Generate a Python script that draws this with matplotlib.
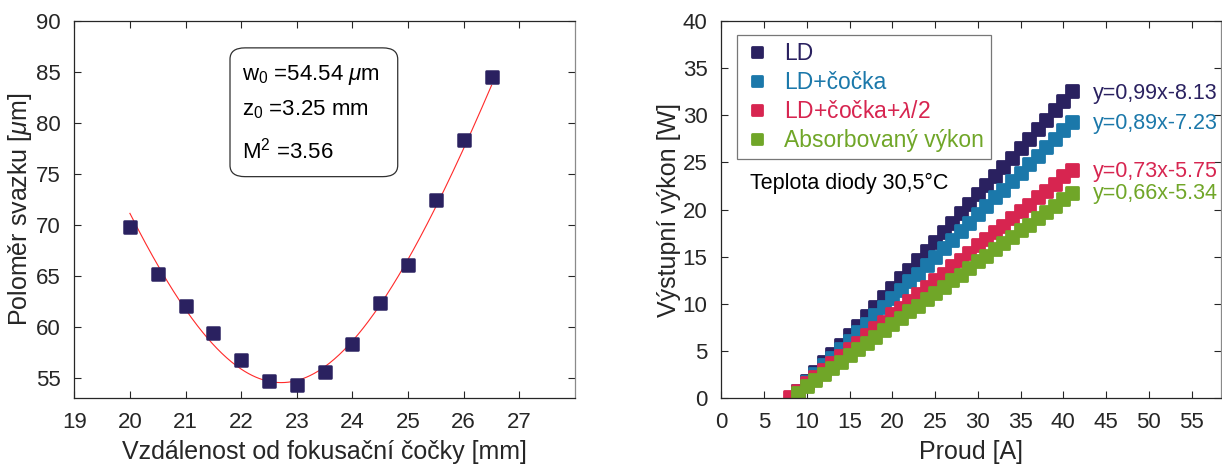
import numpy as np
import matplotlib
matplotlib.use("Agg")
import matplotlib.pyplot as plt
from matplotlib.markers import MarkerStyle
from matplotlib.patches import FancyBboxPatch

plt.rcParams['font.family'] = ['Liberation Sans', 'DejaVu Sans']
plt.rcParams['mathtext.fontset'] = 'custom'
plt.rcParams['mathtext.rm'] = 'Liberation Sans'
plt.rcParams['mathtext.it'] = 'Liberation Sans:italic'

# ---- Left panel data ----
z_mm = [20, 20.5, 21, 21.5, 22, 22.5, 23, 23.5, 24, 24.5, 25, 25.5, 26, 26.5]
radius_um = [69.75, 65.18, 62.05, 59.41, 56.73, 54.74, 54.35, 55.59, 58.36,
             62.34, 66.09, 72.45, 78.32, 84.46]
w0_fit = 54.54
zR_fit = 3.25
zc_fit = 22.72
fit_text = ["w$_0$ =54.54 $\\mu$m", "z$_0$ =3.25 mm", "M$^2$ =3.56"]

# ---- Right panel data ----
current_ld = list(range(9, 42))
p_ld = [0.8, 1.8, 2.8, 3.8, 4.7, 5.7, 6.7, 7.7, 8.7, 9.7, 10.7, 11.7, 12.7, 13.6,
        14.6, 15.6, 16.6, 17.6, 18.6, 19.6, 20.6, 21.6, 22.6, 23.5, 24.5, 25.5,
        26.5, 27.5, 28.5, 29.5, 30.5, 31.5, 32.5]
current_lens = list(range(9, 42))
p_lens = [0.8, 1.7, 2.6, 3.5, 4.3, 5.2, 6.1, 7.0, 7.9, 8.8, 9.7, 10.6, 11.5, 12.4,
          13.2, 14.1, 15.0, 15.9, 16.8, 17.7, 18.6, 19.5, 20.4, 21.3, 22.1, 23.0,
          23.9, 24.8, 25.7, 26.6, 27.5, 28.4, 29.3]
current_wp = list(range(8, 42))
p_wp = [0.1, 0.8, 1.6, 2.3, 3.0, 3.7, 4.5, 5.2, 5.9, 6.7, 7.4, 8.1, 8.9, 9.6, 10.3,
        11.0, 11.8, 12.5, 13.2, 14.0, 14.7, 15.4, 16.2, 16.9, 17.6, 18.3, 19.1,
        19.8, 20.5, 21.3, 22.0, 22.7, 23.5, 24.2]
current_abs = list(range(9, 42))
p_abs = [0.6, 1.3, 1.9, 2.6, 3.2, 3.9, 4.6, 5.2, 5.9, 6.5, 7.2, 7.9, 8.5, 9.2,
         9.8, 10.5, 11.2, 11.8, 12.5, 13.1, 13.8, 14.5, 15.1, 15.8, 16.4, 17.1,
         17.8, 18.4, 19.1, 19.7, 20.4, 21.1, 21.7]
series_labels = ["LD", "LD+čočka", "LD+čočka+$\\lambda$/2", "Absorbovaný výkon"]
fit_labels = ["y=0,99x-8.13", "y=0,89x-7.23", "y=0,73x-5.75", "y=0,66x-5.34"]
fit_label_y = [32.3, 29.1, 24.0, 21.7]
temp_text = "Teplota diody 30,5°C"

NAVY = '#2a2160'
BLUE = '#1b78aa'
RED = '#d72550'
GREEN = '#70a628'
series_colors = [NAVY, BLUE, RED, GREEN]
AXC = '#262626'

fig = plt.figure(figsize=(12.22, 4.69), dpi=100)
axL = fig.add_axes([0.0608, 0.1507, 0.4097, 0.8052])
axR = fig.add_axes([0.5903, 0.1507, 0.4089, 0.8052])

sq = MarkerStyle('s', joinstyle='round')

def style_axes(ax):
    for s in ax.spines.values():
        s.set_color(AXC)
        s.set_linewidth(0.9)
    ax.spines['right'].set_color('#8a8a8a')
    ax.tick_params(direction='in', length=5, width=0.8, colors=AXC,
                   top=True, right=True, labelsize=16, pad=10)

# Left panel
zz = np.linspace(z_mm[0], z_mm[-1], 300)
axL.plot(zz, w0_fit * np.sqrt(1 + ((zz - zc_fit) / zR_fit) ** 2),
         color='#ff2a2a', lw=0.8, zorder=2)
axL.plot(z_mm, radius_um, linestyle='none', marker=sq, ms=9.0, mew=1.8,
         color=NAVY, mec=NAVY, zorder=3)
axL.set_xlim(19, 28)
axL.set_ylim(53, 90)
axL.set_xticks(range(19, 28))
axL.set_yticks(range(55, 91, 5))
style_axes(axL)
axL.set_xlabel("Vzdálenost od fokusační čočky [mm]", fontsize=18, color=AXC, labelpad=5)
axL.set_ylabel("Poloměr svazku [$\\mu$m]", fontsize=18, color=AXC, labelpad=1)

box = FancyBboxPatch((0.311, 0.587), 0.335, 0.341, boxstyle="round,pad=0,rounding_size=0.03",
                     transform=axL.transAxes, fc='white', ec='#303030', lw=0.9, zorder=4)
axL.add_patch(box)
for t, yy in zip(fit_text, [0.856, 0.765, 0.656]):
    axL.text(0.334, yy, t, transform=axL.transAxes, fontsize=16, color='black',
             va='center', ha='left', zorder=5)

# Right panel
xs = [current_ld, current_lens, current_wp, current_abs]
ys = [p_ld, p_lens, p_wp, p_abs]
handles = []
for x, y, c, lab in zip(xs, ys, series_colors, series_labels):
    h, = axR.plot(x, y, linestyle='none', marker=sq, ms=9.0, mew=2.0,
                  color=c, mec=c, label=lab)
    handles.append(h)
axR.set_xlim(0, 58.45)
axR.set_ylim(0, 40)
axR.set_xticks(range(0, 56, 5))
axR.set_yticks(range(0, 41, 5))
style_axes(axR)
axR.set_xlabel("Proud [A]", fontsize=18, color=AXC, labelpad=5)
axR.set_ylabel("Výstupní výkon [W]", fontsize=18, color=AXC, labelpad=1)

for lab, yy, c in zip(fit_labels, fit_label_y, series_colors):
    axR.text(43.5, yy, lab, fontsize=15.5, color=c, va='center', ha='left')
axR.text(3.3, 22.8, temp_text, fontsize=15.5, color='black', va='center', ha='left')

leg = axR.legend(handles=handles, loc='upper left', bbox_to_anchor=(0.031, 0.9616),
                 borderaxespad=0, fontsize=16.5, frameon=True, fancybox=False,
                 handlelength=1.15, handletextpad=0.62, labelspacing=0.26,
                 borderpad=0.3, markerscale=0.85)
leg.get_frame().set_edgecolor('#555555')
leg.get_frame().set_linewidth(0.9)
for txt, c in zip(leg.get_texts(), series_colors):
    txt.set_color(c)

fig.savefig("out.png", dpi=100)
